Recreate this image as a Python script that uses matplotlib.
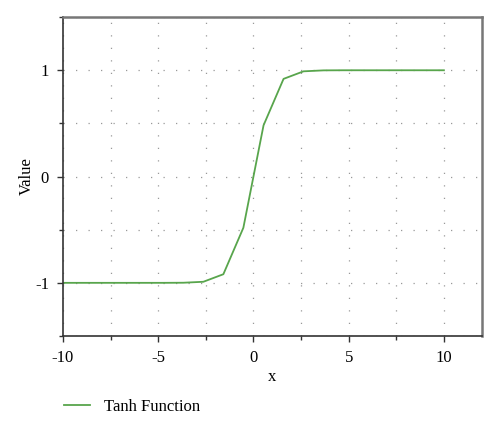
import matplotlib
matplotlib.use("Agg")
import matplotlib.pyplot as plt
from matplotlib.ticker import MultipleLocator

plt.rc("font", family="Liberation Serif", size=12)

# values
x_vals = [-10.0, -8.95, -7.89, -6.84, -5.79, -4.74, -3.68, -2.63, -1.58, -0.53,
          0.53, 1.58, 2.63, 3.68, 4.74, 5.79, 6.84, 7.89, 8.95, 10.0]
y_vals = [-1.0, -1.0, -1.0, -1.0, -1.0, -1.0, -0.999, -0.990, -0.919, -0.482,
          0.482, 0.919, 0.990, 0.999, 1.0, 1.0, 1.0, 1.0, 1.0, 1.0]
series_label = "Tanh Function"

fig = plt.figure(figsize=(5.0, 4.28), dpi=100)
ax = fig.add_axes([0.126, 0.215, 0.838, 0.745])

line, = ax.plot(x_vals, y_vals, color="#58a54c", lw=1.3, label=series_label)

ax.set_xlim(-10, 12)
ax.set_ylim(-1.5, 1.5)
ax.xaxis.set_minor_locator(MultipleLocator(2.5))
ax.yaxis.set_minor_locator(MultipleLocator(0.5))
ax.set_xticks([-10, -5, 0, 5, 10])
ax.set_xticklabels(["-10", "-5", "0", "5", "10"])
ax.set_yticks([-1, 0, 1])
ax.set_yticklabels(["-1", "0", "1"])

ax.grid(which="both", color="#999999", lw=0.9, linestyle=(0, (1, 9)))
ax.tick_params(axis="x", which="major", direction="out", length=4, width=1, color="#333333", pad=6)
ax.tick_params(axis="y", which="major", direction="out", length=4, width=1, color="#333333", pad=6)
ax.tick_params(which="minor", direction="out", length=3, width=1, color="#333333")

for s in ["left", "bottom"]:
    ax.spines[s].set_color("#333333")
    ax.spines[s].set_linewidth(1.2)
for s in ["top", "right"]:
    ax.spines[s].set_color("#777777")
    ax.spines[s].set_linewidth(1.8)

ax.set_xlabel("x")
ax.set_ylabel("Value")
ax.xaxis.set_label_coords(0.5, -0.103)
ax.yaxis.set_label_coords(-0.068, 0.5)

fig.legend(handles=[line], loc="lower left", bbox_to_anchor=(0.097, -0.005),
           frameon=False, handlelength=1.6, handletextpad=0.8, fontsize=12)

fig.savefig("out.png", dpi=100)
